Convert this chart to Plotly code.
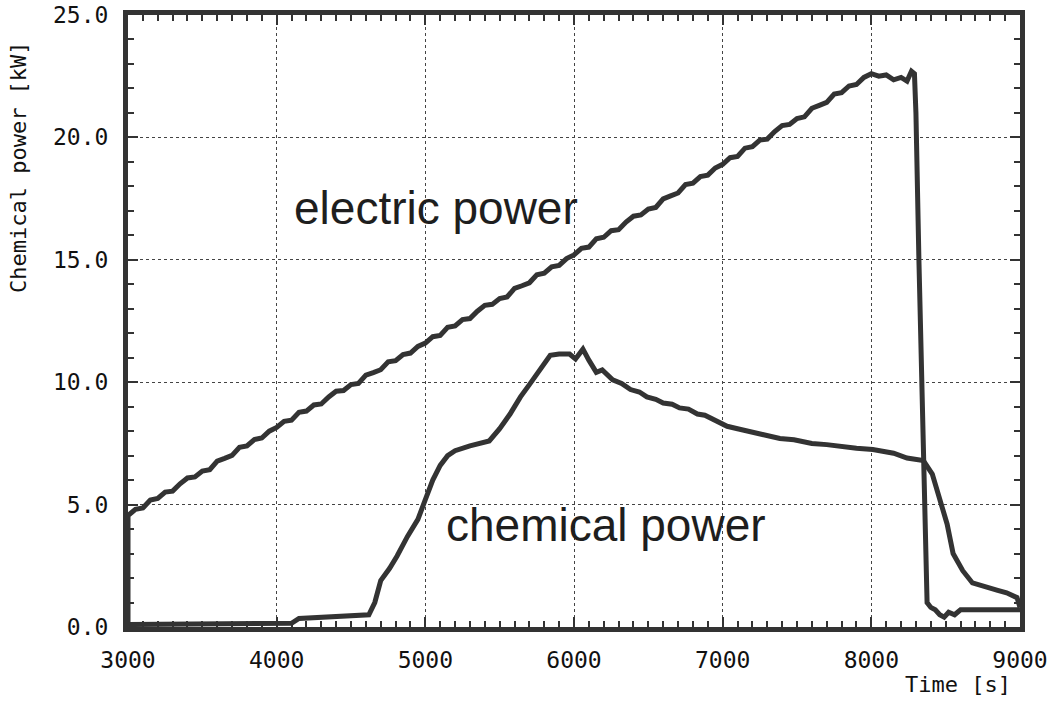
import plotly.graph_objects as go

# Electric power [kW], sampled every 50 s during the ramp, then the shutdown tail
ramp_time = list(range(3000, 8001, 50))
ramp_power = [
    4.55, 4.81, 4.86, 5.19, 5.25, 5.51, 5.55, 5.85, 6.09, 6.13, 6.37, 6.43, 6.78, 6.89,
    7.01, 7.34, 7.40, 7.66, 7.72, 8.0, 8.15,
    8.4, 8.45, 8.77, 8.82, 9.07, 9.11, 9.4, 9.63, 9.66, 9.9, 9.95, 10.29, 10.39, 10.51,
    10.83, 10.88, 11.13, 11.19, 11.46, 11.6,
    11.86, 11.91, 12.24, 12.3, 12.56, 12.6, 12.9, 13.14, 13.18, 13.42, 13.48, 13.83,
    13.94, 14.06, 14.39, 14.45, 14.71, 14.77, 15.05, 15.2,
    15.47, 15.52, 15.86, 15.92, 16.19, 16.23, 16.54, 16.78, 16.83, 17.07, 17.14, 17.49,
    17.61, 17.73, 18.07, 18.13, 18.4, 18.46, 18.75, 18.9,
    19.17, 19.22, 19.56, 19.62, 19.89, 19.93, 20.24, 20.48, 20.53, 20.77, 20.84, 21.19,
    21.31, 21.43, 21.77, 21.83, 22.1, 22.16, 22.45, 22.6,
]
tail_time = [8050, 8100, 8150, 8200, 8240, 8270, 8290, 8300, 8320, 8345, 8365, 8375,
             8400, 8430, 8460, 8490, 8520, 8560, 8600, 8700, 8800, 8900, 9000]
tail_power = [22.5, 22.55, 22.35, 22.45, 22.3, 22.7, 22.6, 21.0, 15.0, 8.0, 3.0, 1.0,
              0.8, 0.7, 0.5, 0.4, 0.6, 0.5, 0.7, 0.7, 0.7, 0.7, 0.7]
elec_time = [3000] + ramp_time + tail_time
elec_power = [0.2] + ramp_power + tail_power

# Chemical power [kW]
chem_time = [3000, 4100, 4150, 4300, 4500, 4620, 4660, 4700, 4760, 4810, 4880,
             4950, 5000, 5050, 5100, 5150, 5200, 5300, 5430, 5500, 5570, 5640,
             5700, 5790, 5840, 5900, 5970, 6010, 6060, 6100, 6150, 6190, 6260,
             6320, 6380, 6440, 6490, 6550, 6600, 6660, 6710, 6770, 6830, 6880,
             6930, 6980, 7030, 7100, 7200, 7290, 7385, 7480, 7600, 7700, 7800,
             7900, 8010, 8080, 8150, 8240, 8350, 8410, 8460, 8510, 8550, 8615,
             8680, 8780, 8850, 8910, 8980, 9000]
chem_power = [0.1, 0.15, 0.35, 0.4, 0.45, 0.5, 1.0, 1.9, 2.4, 2.9, 3.7,
              4.4, 5.2, 6.0, 6.6, 7.0, 7.2, 7.4, 7.6, 8.1, 8.7, 9.4,
              9.9, 10.65, 11.1, 11.15, 11.15, 10.95, 11.35, 10.9, 10.4, 10.5, 10.1,
              9.95, 9.7, 9.6, 9.4, 9.3, 9.15, 9.1, 8.95, 8.9, 8.7, 8.65,
              8.5, 8.4, 8.2, 8.1, 7.95, 7.85, 7.7, 7.65, 7.5, 7.45, 7.35,
              7.3, 7.25, 7.2, 7.1, 6.9, 6.8, 6.25, 5.3, 4.2, 3.0, 2.3,
              1.8, 1.6, 1.5, 1.4, 1.2, 0.8]

x_ticks = [3000, 4000, 5000, 6000, 7000, 8000, 9000]
y_ticks = [0, 5, 10, 15, 20, 25]

ink = "#333333"
mono = "DejaVu Sans Mono"

fig = go.Figure()
for t, p in ((elec_time, elec_power), (chem_time, chem_power)):
    fig.add_trace(go.Scatter(x=t, y=p, mode="lines",
                             line=dict(color=ink, width=5),
                             showlegend=False, hoverinfo="skip"))

axis_common = dict(
    showline=True, linewidth=5, linecolor=ink, mirror="allticks",
    ticks="inside", ticklen=10, tickwidth=2, tickcolor=ink,
    showgrid=True, gridcolor="#444", gridwidth=1, griddash="dot",
    zeroline=False, automargin=False, ticklabeloverflow="allow",
    tickfont=dict(family=mono, size=23, color="#111"),
)

fig.update_xaxes(range=[3000, 9000], tickvals=x_ticks,
                 minor=dict(dtick=100, ticks="inside", ticklen=6, tickwidth=2,
                            tickcolor=ink, showgrid=False),
                 ticklabelstandoff=8, **axis_common)
fig.update_yaxes(range=[0, 25], tickvals=y_ticks, tickformat=".1f",
                 minor=dict(dtick=1, ticks="inside", ticklen=6, tickwidth=2,
                            tickcolor=ink, showgrid=False),
                 ticklabelstandoff=10, **axis_common)

fig.add_annotation(text="electric power", x=5071, y=17.1, xref="x", yref="y",
                   showarrow=False, font=dict(family="Liberation Sans", size=46, color="#1e1e1e"))
fig.add_annotation(text="chemical power", x=6215, y=4.15, xref="x", yref="y",
                   showarrow=False, font=dict(family="Liberation Sans", size=46, color="#1e1e1e"))
fig.add_annotation(text="Chemical power [kW]", x=-0.123, y=0.752, xref="paper", yref="paper",
                   xanchor="center", yanchor="middle", textangle=-90, showarrow=False,
                   font=dict(family=mono, size=22, color="#111"))
fig.add_annotation(text="Time [s]", x=0.930, y=-0.094, xref="paper", yref="paper",
                   xanchor="center", yanchor="middle", showarrow=False,
                   font=dict(family=mono, size=22, color="#111"))

fig.update_layout(
    width=1059, height=706,
    margin=dict(l=128, r=39, t=15, b=79),
    paper_bgcolor="white", plot_bgcolor="white",
)

fig.write_html("out.html")
